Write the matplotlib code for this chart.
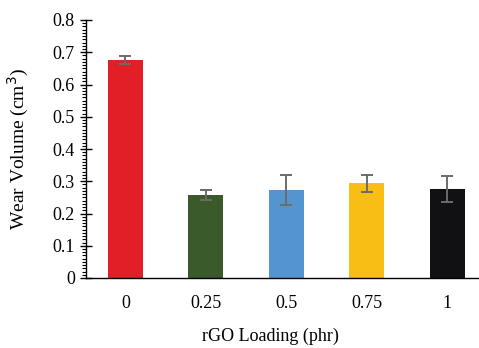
import matplotlib
matplotlib.use("Agg")
import matplotlib.pyplot as plt
from matplotlib.ticker import MultipleLocator

LOADINGS = ["0", "0.25", "0.5", "0.75", "1"]
WEAR_VOLUME = [0.675, 0.258, 0.273, 0.294, 0.276]
WEAR_ERROR = [0.012, 0.016, 0.047, 0.026, 0.040]
Y_TICKS = [0, 0.1, 0.2, 0.3, 0.4, 0.5, 0.6, 0.7, 0.8]
Y_TICK_LABELS = ["0", "0.1", "0.2", "0.3", "0.4", "0.5", "0.6", "0.7", "0.8"]
COLORS = ["#E21E26", "#3B5A2B", "#5494CF", "#F8BE14", "#111114"]

plt.rcParams["font.family"] = ["Liberation Serif", "DejaVu Serif"]

fig = plt.figure(figsize=(4.79, 3.48), dpi=100)
ax = fig.add_axes([86 / 479, 1 - 278 / 348, 402.5 / 479, 258 / 348])

x = range(len(LOADINGS))
ax.bar(x, WEAR_VOLUME, width=0.435, color=COLORS, zorder=2)
ax.errorbar(x, WEAR_VOLUME, yerr=WEAR_ERROR, fmt="none", ecolor="#6b6b6b",
            elinewidth=1.4, capsize=4, capthick=1.4, zorder=3)

ax.set_xlim(-0.49, 4.51)
ax.set_ylim(0, 0.8)
ax.set_xticks(list(x))
ax.set_xticklabels(LOADINGS)
ax.set_yticks(Y_TICKS)
ax.set_yticklabels(Y_TICK_LABELS)
ax.yaxis.set_minor_locator(MultipleLocator(0.01))

ax.spines["top"].set_visible(False)
ax.spines["right"].set_visible(False)
ax.spines["left"].set_linewidth(1.0)
ax.spines["bottom"].set_linewidth(1.0)

ax.tick_params(axis="y", which="major", direction="inout", length=8, width=1.0,
               labelsize=13, pad=4)
ax.tick_params(axis="y", which="minor", direction="out", length=3, width=0.8)
ax.tick_params(axis="x", which="both", length=0, labelsize=13, pad=12)

ax.set_ylabel("Wear Volume (cm$^3$)", fontsize=14)
ax.yaxis.set_label_coords(-55 / 402.5, 0.5)
ax.set_xlabel("rGO Loading (phr)", fontsize=13)
ax.xaxis.set_label_coords((270 - 86) / 402.5, -50 / 258)

fig.savefig("out.png", dpi=100)
